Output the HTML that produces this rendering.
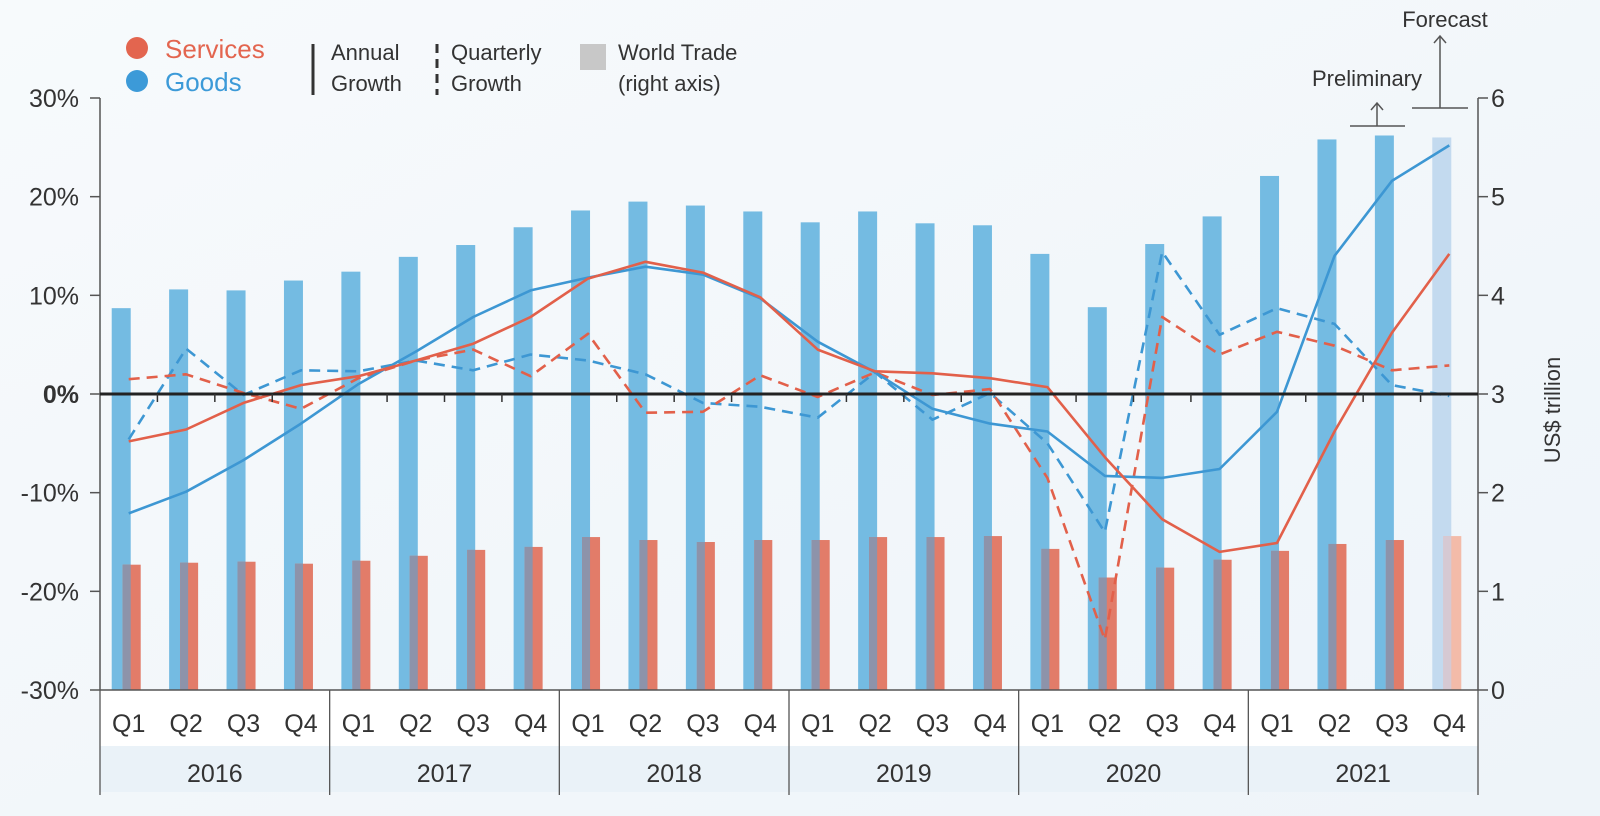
<!DOCTYPE html>
<html><head><meta charset="utf-8"><style>
body{margin:0;width:1600px;height:816px;overflow:hidden;background:#f4f8fb;font-family:"Liberation Sans Narrow","Liberation Sans",sans-serif;}
svg{display:block}
text{font-family:"Liberation Sans Narrow","Liberation Sans",sans-serif;}
</style></head><body>
<svg id="chart" width="1600" height="816" viewBox="0 0 1600 816">
<defs><linearGradient id="bg" x1="0" y1="0" x2="1" y2="1"><stop offset="0" stop-color="#f7fafc"/><stop offset="1" stop-color="#eef4f9"/></linearGradient></defs>
<rect x="0" y="0" width="1600" height="816" fill="url(#bg)"/>
<rect x="100" y="690" width="1378" height="56" fill="#ffffff"/>
<rect x="100" y="746" width="1378" height="46" fill="#eaf2f8"/>
<g id="bars"></g><g id="lines"></g><g id="axes"></g>
<g>
<circle cx="137" cy="48" r="11" fill="#e3654f"/>
<text x="165" y="58" font-size="26" fill="#e3654f">Services</text>
<circle cx="137" cy="81" r="11" fill="#3c9ad8"/>
<text x="165" y="91" font-size="26" fill="#3c9ad8">Goods</text>
<line x1="313" y1="44" x2="313" y2="95" stroke="#333" stroke-width="3"/>
<text x="331" y="60" font-size="22" fill="#333">Annual</text>
<text x="331" y="91" font-size="22" fill="#333">Growth</text>
<line x1="437" y1="44" x2="437" y2="95" stroke="#333" stroke-width="3" stroke-dasharray="9,6"/>
<text x="451" y="60" font-size="22" fill="#333">Quarterly</text>
<text x="451" y="91" font-size="22" fill="#333">Growth</text>
<rect x="580" y="44" width="26" height="26" fill="#c8c8c8"/>
<text x="618" y="60" font-size="22" fill="#333">World Trade</text>
<text x="618" y="91" font-size="22" fill="#333">(right axis)</text>
</g>
<g stroke="#555" stroke-width="1.5" fill="none">
<line x1="1412" y1="108" x2="1468" y2="108"/><line x1="1440" y1="108" x2="1440" y2="36"/><polyline points="1434,43 1440,36 1446,43"/>
<line x1="1350" y1="126" x2="1405" y2="126"/><line x1="1377" y1="126" x2="1377" y2="103"/><polyline points="1371,110 1377,103 1383,110"/>
</g>
<text x="1445" y="27" font-size="22" fill="#333" text-anchor="middle">Forecast</text>
<text x="1367" y="86" font-size="22" fill="#333" text-anchor="middle">Preliminary</text>
<text transform="translate(1560,410) rotate(-90)" font-size="22" fill="#333" text-anchor="middle">US$ trillion</text>
</svg>
<script>
const years=["2016","2017","2018","2019","2020","2021"];
const quarters=["Q1","Q2","Q3","Q4"];
const goodsTrade=[3.87,4.06,4.05,4.15,4.24,4.39,4.51,4.69,4.86,4.95,4.91,4.85,4.74,4.85,4.73,4.71,4.42,3.88,4.52,4.80,5.21,5.58,5.62,5.60];
const servicesTrade=[1.27,1.29,1.30,1.28,1.31,1.36,1.42,1.45,1.55,1.52,1.50,1.52,1.52,1.55,1.55,1.56,1.43,1.14,1.24,1.32,1.41,1.48,1.52,1.56];
const goodsAnnual=[-12.1,-9.9,-6.7,-3.0,1.0,4.3,7.8,10.5,11.8,12.9,12.1,9.7,5.3,2.2,-1.5,-3.0,-3.8,-8.3,-8.5,-7.6,-1.8,14.0,21.6,25.2];
const servicesAnnual=[-4.8,-3.6,-0.9,0.9,1.8,3.4,5.1,7.8,11.7,13.4,12.3,9.8,4.5,2.3,2.1,1.6,0.7,-6.4,-12.7,-16.0,-15.1,-3.8,6.2,14.2];
const goodsQuarterly=[-4.6,4.6,-0.1,2.4,2.3,3.4,2.4,4.0,3.4,2.0,-0.9,-1.3,-2.4,2.2,-2.6,0.1,-5.0,-14.0,14.4,6.0,8.7,7.1,0.9,-0.2];
const servicesQuarterly=[1.5,2.0,0.1,-1.5,1.6,3.4,4.5,1.8,6.1,-1.9,-1.8,1.9,-0.3,2.2,-0.1,0.5,-8.5,-24.9,7.8,4.0,6.3,4.9,2.4,2.9];
const leftTicks=[30,20,10,0,-10,-20,-30];
const rightTicks=[6,5,4,3,2,1,0];
const NS="http://www.w3.org/2000/svg";
const X0=100,X1=1478,Y0=98,Y1=690,N=goodsTrade.length,QW=(X1-X0)/N;
const xc=i=>X0+QW*(i+0.5);
const yL=v=>Y1-(v+30)/60*(Y1-Y0);
const yR=v=>Y1-v/6*(Y1-Y0);
function mk(tag,attrs,parent){const e=document.createElementNS(NS,tag);for(const k in attrs)e.setAttribute(k,attrs[k]);document.getElementById(parent).appendChild(e);return e;}
for(let i=0;i<N;i++){
  const c=xc(i),last=i===N-1;
  const bx=c-17,bw=19,rx=c-6,rw=18;
  const gy=yR(goodsTrade[i]),sy=yR(servicesTrade[i]);
  let e=mk('rect',{x:bx,y:gy,width:bw,height:Y1-gy,fill:last?'#c3daef':'#74bbe2'},'bars');
  
  
  e=mk('rect',{x:rx,y:sy,width:rw,height:Y1-sy,fill:last?'#f3bba9':'#e27c69'},'bars');
  
  
  const oy=Math.max(gy,sy);
  e=mk('rect',{x:rx,y:oy,width:bx+bw-rx,height:Y1-oy,fill:last?'#d6c9d3':'#8d93aa'},'bars');
  
  
}
function line(arr,color,dash,name){
  const pts=arr.map((v,i)=>xc(i).toFixed(1)+','+yL(v).toFixed(1)).join(' ');
  const e=mk('polyline',{points:pts,fill:'none',stroke:color,'stroke-width':2.6,'stroke-linejoin':'round'},'lines');
  if(dash)e.setAttribute('stroke-dasharray','11,7');
  
  
}
line(goodsQuarterly,'#3d97d3',true,'goods-quarterly-line');
line(servicesQuarterly,'#e2604a',true,'services-quarterly-line');
line(goodsAnnual,'#3d97d3',false,'goods-annual-line');
line(servicesAnnual,'#e2604a',false,'services-annual-line');
// axes
let a=mk('line',{x1:X0,y1:Y0,x2:X0,y2:Y1,stroke:'#555','stroke-width':1.5},'axes');

a=mk('line',{x1:X1,y1:Y0,x2:X1,y2:Y1,stroke:'#555','stroke-width':1.5},'axes');

a=mk('line',{x1:X0,y1:Y1,x2:X1,y2:Y1,stroke:'#555','stroke-width':1.5},'axes');

a=mk('line',{x1:X0,y1:yL(0),x2:X1,y2:yL(0),stroke:'#222','stroke-width':3},'axes');

leftTicks.forEach(v=>{
  const y=yL(v);
  mk('line',{x1:X0-10,y1:y,x2:X0,y2:y,stroke:'#555','stroke-width':1.5},'axes');
  const t=mk('text',{x:X0-21,y:y+9,'font-size':25,'text-anchor':'end',fill:'#333','font-weight':v===0?'bold':'normal'},'axes');
  t.textContent=v+'%';
  
  
});
rightTicks.forEach(v=>{
  const y=yR(v);
  mk('line',{x1:X1,y1:y,x2:X1+10,y2:y,stroke:'#555','stroke-width':1.5},'axes');
  const t=mk('text',{x:X1+13,y:y+9,'font-size':25,fill:'#333'},'axes');
  t.textContent=String(v);
  
  
});
for(let i=0;i<=N;i++){
  const x=X0+QW*i;
  if(i%4===0){mk('line',{x1:x,y1:Y1,x2:x,y2:795,stroke:'#555','stroke-width':1.3},'axes');}
  else{mk('line',{x1:x,y1:yL(0),x2:x,y2:yL(0)+8,stroke:'#333','stroke-width':1.5},'axes');}
}
for(let i=0;i<N;i++){
  const t=mk('text',{x:xc(i),y:732,'font-size':25,'text-anchor':'middle',fill:'#333'},'axes');
  t.textContent=quarters[i%4];
  
  
}
years.forEach((yr,j)=>{
  const t=mk('text',{x:X0+QW*(4*j+2),y:782,'font-size':25,'text-anchor':'middle',fill:'#333'},'axes');
  t.textContent=yr;
  
  
});
</script>
</body></html>
